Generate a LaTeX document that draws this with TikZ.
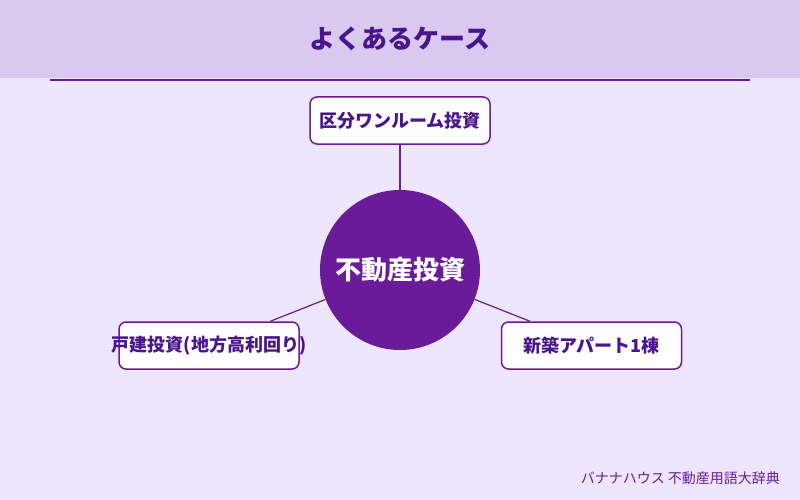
\documentclass[tikz,border=0pt]{standalone}
\usepackage{fontspec}
\setmainfont{Noto Sans CJK JP}
\definecolor{bandbg}{HTML}{D9C8EF}
\definecolor{pagebg}{HTML}{EEE6FF}
\definecolor{grape}{HTML}{6A1B9A}
\definecolor{inkpurple}{HTML}{4A148C}
\tikzset{
  case/.style={draw=grape,line width=1.5pt,fill=white,rounded corners=7pt,
    minimum width=180pt,minimum height=47pt,inner sep=0pt,text=inkpurple,
    font=\fontsize{18}{20}\selectfont\bfseries},
  link/.style={draw=grape,line width=1.2pt}
}
\begin{document}
\begin{tikzpicture}[x=1pt,y=-1pt]
  \fill[pagebg] (0,0) rectangle (800,500);
  \fill[bandbg] (0,0) rectangle (800,78);
  \draw[grape,line width=2pt] (50,80) -- (750,80);
  \node[text=inkpurple,font=\fontsize{26}{28}\selectfont\bfseries] (title) at (400,39) {よくあるケース};
  % center and the three cases
  \node[circle,fill=grape,minimum size=160pt,inner sep=0pt,text=white,
    font=\fontsize{26}{28}\selectfont\bfseries] (hub) at (400,270) {不動産投資};
  \node[case] (studio) at (400,120.5) {区分ワンルーム投資};
  \node[case] (house) at (209,345.5) {\makebox[0pt]{戸建投資(地方高利回り)}};
  \node[case] (apart) at (591.5,345.5) {新築アパート1棟};
  \draw[link] (hub) -- (studio);
  \draw[link] (hub) -- (house);
  \draw[link] (hub) -- (apart);
  \node[anchor=east,text=grape,font=\fontsize{14}{16}\selectfont] (credit) at (783.5,478) {バナナハウス 不動産用語大辞典};
\end{tikzpicture}
\end{document}
